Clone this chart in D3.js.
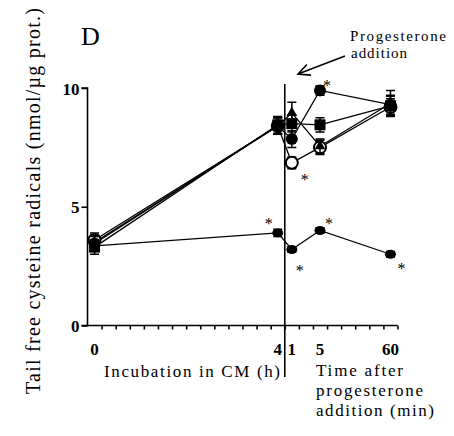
<!DOCTYPE html>
<html>
<head>
<meta charset="utf-8">
<script src="https://cdn.jsdelivr.net/npm/d3@7"></script>
<style>
  html, body { margin: 0; padding: 0; background: #fff; }
  svg { display: block; }
</style>
</head>
<body>
<div id="chart"></div>
<script>
// Time points: 0 and 4 h of incubation in CM, then 1, 5 and 60 min after progesterone
const timeLabels = ["0", "4", "1", "5", "60"];
// slot of each time point on the 22-slot category axis
const timeSlots = [0, 13, 14, 16, 21];
const slotCount = 22;

// Tail free cysteine radicals (nmol/µg prot.) per series
const circleVals   = [3.45, 8.4, 7.85, 9.9, 9.3];
const circleErr    = [0.3, 0.35, 0.35, 0.2, 0.4];
const triangleVals = [3.5, 8.4, 8.95, 7.55, 9.35];
const triangleErr  = [0.3, 0.35, 0.45, 0.3, 0.55];
const squareVals   = [3.3, 8.45, 8.5, 8.45, 9.25];
const squareErr    = [0.3, 0.35, 0.35, 0.3, 0.4];
const openVals     = [3.6, 8.4, 6.85, 7.5, 9.2];
const openErr      = [0.3, 0.35, 0.25, 0.3, 0.35];
const lowerVals    = [3.35, 3.9, 3.2, 4.0, 3.0];
const lowerErr     = [0.2, 0.15, 0.12, 0.12, 0.12];

const yTicks = [0, 5, 10];

const FONT = "'Liberation Serif'";
const W = 454, H = 436;
const svg = d3.select("#chart").append("svg").attr("width", W).attr("height", H);

const x = d3.scaleLinear().domain([0, slotCount]).range([87.5, 397.5]);
const y = d3.scaleLinear().domain([0, 10]).range([325.5, 88]);
const xc = i => x(timeSlots[i] + 0.5);

// drawing order: open circles underneath the filled markers
const series = [
  { vals: openVals,     err: openErr,     shape: "open" },
  { vals: lowerVals,    err: lowerErr,    shape: "dot" },
  { vals: squareVals,   err: squareErr,   shape: "square" },
  { vals: triangleVals, err: triangleErr, shape: "triangle" },
  { vals: circleVals,   err: circleErr,   shape: "circle" }
];
const OPEN = 0, LOWER = 1, CIRCLE = 4;

function txt(sel) {
  return sel.style("font-family", FONT).attr("fill", "#000");
}

// axes
const yAxis = d3.axisLeft(y).tickValues(yTicks).tickSize(6).tickFormat(d3.format("d"));
const gy = svg.append("g").attr("transform", `translate(${x(0)},0)`).call(yAxis);
gy.select(".domain").attr("d", `M-6,${y(0)}H0V${y(10)}H-6`).attr("stroke", "#000").attr("stroke-width", 1.6);
gy.selectAll(".tick line").attr("stroke", "#000").attr("stroke-width", 1.6);
txt(gy.selectAll(".tick text"))
  .attr("x", -8).attr("dy", "0.36em")
  .style("font-size", "17px").style("font-weight", "bold");

const xAxis = d3.axisBottom(x).tickValues(d3.range(1, slotCount + 1)).tickSize(4).tickFormat("");
const gx = svg.append("g").attr("transform", `translate(0,${y(0)})`).call(xAxis);
gx.select(".domain").attr("d", `M${x(0)},0H${x(slotCount)}`).attr("stroke", "#000").attr("stroke-width", 1.6);
gx.selectAll(".tick line").attr("stroke", "#000").attr("stroke-width", 1.6);

// time labels under the axis
txt(svg.append("g").selectAll("text").data(timeLabels).join("text"))
  .attr("x", (d, i) => xc(i)).attr("y", 355)
  .attr("text-anchor", "middle")
  .style("font-size", "17px").style("font-weight", "bold")
  .text(d => d);

// progesterone addition marker line
svg.append("line")
  .attr("x1", x(14)).attr("x2", x(14))
  .attr("y1", 84).attr("y2", 377)
  .attr("stroke", "#000").attr("stroke-width", 1.6);

// connecting lines
const line = d3.line().x((d, i) => xc(i)).y(d => y(d));
const plot = svg.append("g");
series.forEach(s => {
  plot.append("path").attr("d", line(s.vals))
    .attr("fill", "none").attr("stroke", "#000").attr("stroke-width", 1.3);
});

// error bars and markers
series.forEach(s => {
  const g = plot.append("g");
  s.vals.forEach((v, i) => {
    const cx = xc(i), lo = y(v - s.err[i]), hi = y(v + s.err[i]);
    g.append("path")
      .attr("d", `M${cx},${lo}V${hi}M${cx - 4.5},${lo}H${cx + 4.5}M${cx - 4.5},${hi}H${cx + 4.5}`)
      .attr("stroke", "#000").attr("stroke-width", 1.5).attr("fill", "none");
  });
  s.vals.forEach((v, i) => {
    const cx = xc(i), cy = y(v);
    if (s.shape === "square") {
      g.append("rect").attr("x", cx - 5.5).attr("y", cy - 5.5).attr("width", 11).attr("height", 11).attr("fill", "#000");
    } else if (s.shape === "triangle") {
      g.append("path").attr("d", d3.symbol(d3.symbolTriangle, 50)()).attr("transform", `translate(${cx},${cy})`).attr("fill", "#000");
    } else if (s.shape === "open") {
      g.append("circle").attr("cx", cx).attr("cy", cy).attr("r", 6).attr("fill", "#fff").attr("stroke", "#000").attr("stroke-width", 2);
    } else if (s.shape === "dot") {
      g.append("ellipse").attr("cx", cx).attr("cy", cy).attr("rx", 5.5).attr("ry", 4.5).attr("fill", "#000");
    } else {
      g.append("circle").attr("cx", cx).attr("cy", cy).attr("r", 6).attr("fill", "#000");
    }
  });
});

// significance marks: [series index, time index, dx, dy]
const stars = [
  [LOWER, 1, -9, -12], [LOWER, 2, 8, 18], [LOWER, 3, 9, -10], [LOWER, 4, 11, 12],
  [CIRCLE, 3, 7, -7], [OPEN, 2, 13, 14]
];
txt(svg.append("g").selectAll("text").data(stars).join("text"))
  .attr("x", d => xc(d[1]) + d[2])
  .attr("y", d => y(series[d[0]].vals[d[1]]) + d[3] + 8)
  .attr("text-anchor", "middle")
  .style("font-size", "16px")
  .text("*");

// panel letter
txt(svg.append("text")).attr("x", 81).attr("y", 45).style("font-size", "26px").text("D");

// y axis title
txt(svg.append("text"))
  .attr("transform", "translate(40,201) rotate(-90)")
  .attr("text-anchor", "middle")
  .attr("textLength", 386).attr("lengthAdjust", "spacing")
  .style("font-size", "20px")
  .text("Tail free cysteine radicals (nmol/µg prot.)");

// x axis titles
txt(svg.append("text")).attr("x", 104).attr("y", 377)
  .attr("textLength", 176).attr("lengthAdjust", "spacing")
  .style("font-size", "17px").text("Incubation in CM (h)");
const after = [["Time after", 87, 376], ["progesterone", 107, 396], ["addition (min)", 118, 416]];
txt(svg.append("g").selectAll("text").data(after).join("text"))
  .attr("x", 316).attr("y", d => d[2])
  .attr("textLength", d => d[1]).attr("lengthAdjust", "spacing")
  .style("font-size", "17px").text(d => d[0]);

// annotation with arrow
txt(svg.append("text")).attr("x", 350).attr("y", 41)
  .attr("textLength", 96).attr("lengthAdjust", "spacing")
  .style("font-size", "15px").text("Progesterone");
txt(svg.append("text")).attr("x", 351).attr("y", 58)
  .attr("textLength", 56).attr("lengthAdjust", "spacing")
  .style("font-size", "15px").text("addition");
const tip = [298, 74], tail = [345, 56];
const ang = Math.atan2(tail[1] - tip[1], tail[0] - tip[0]);
const head = a => [tip[0] + 13 * Math.cos(ang + a), tip[1] + 13 * Math.sin(ang + a)];
const h1 = head(0.45), h2 = head(-0.45);
svg.append("path")
  .attr("d", `M${tail}L${tip}M${h1}L${tip}L${h2}`)
  .attr("fill", "none").attr("stroke", "#000").attr("stroke-width", 1.6);
</script>
</body>
</html>
